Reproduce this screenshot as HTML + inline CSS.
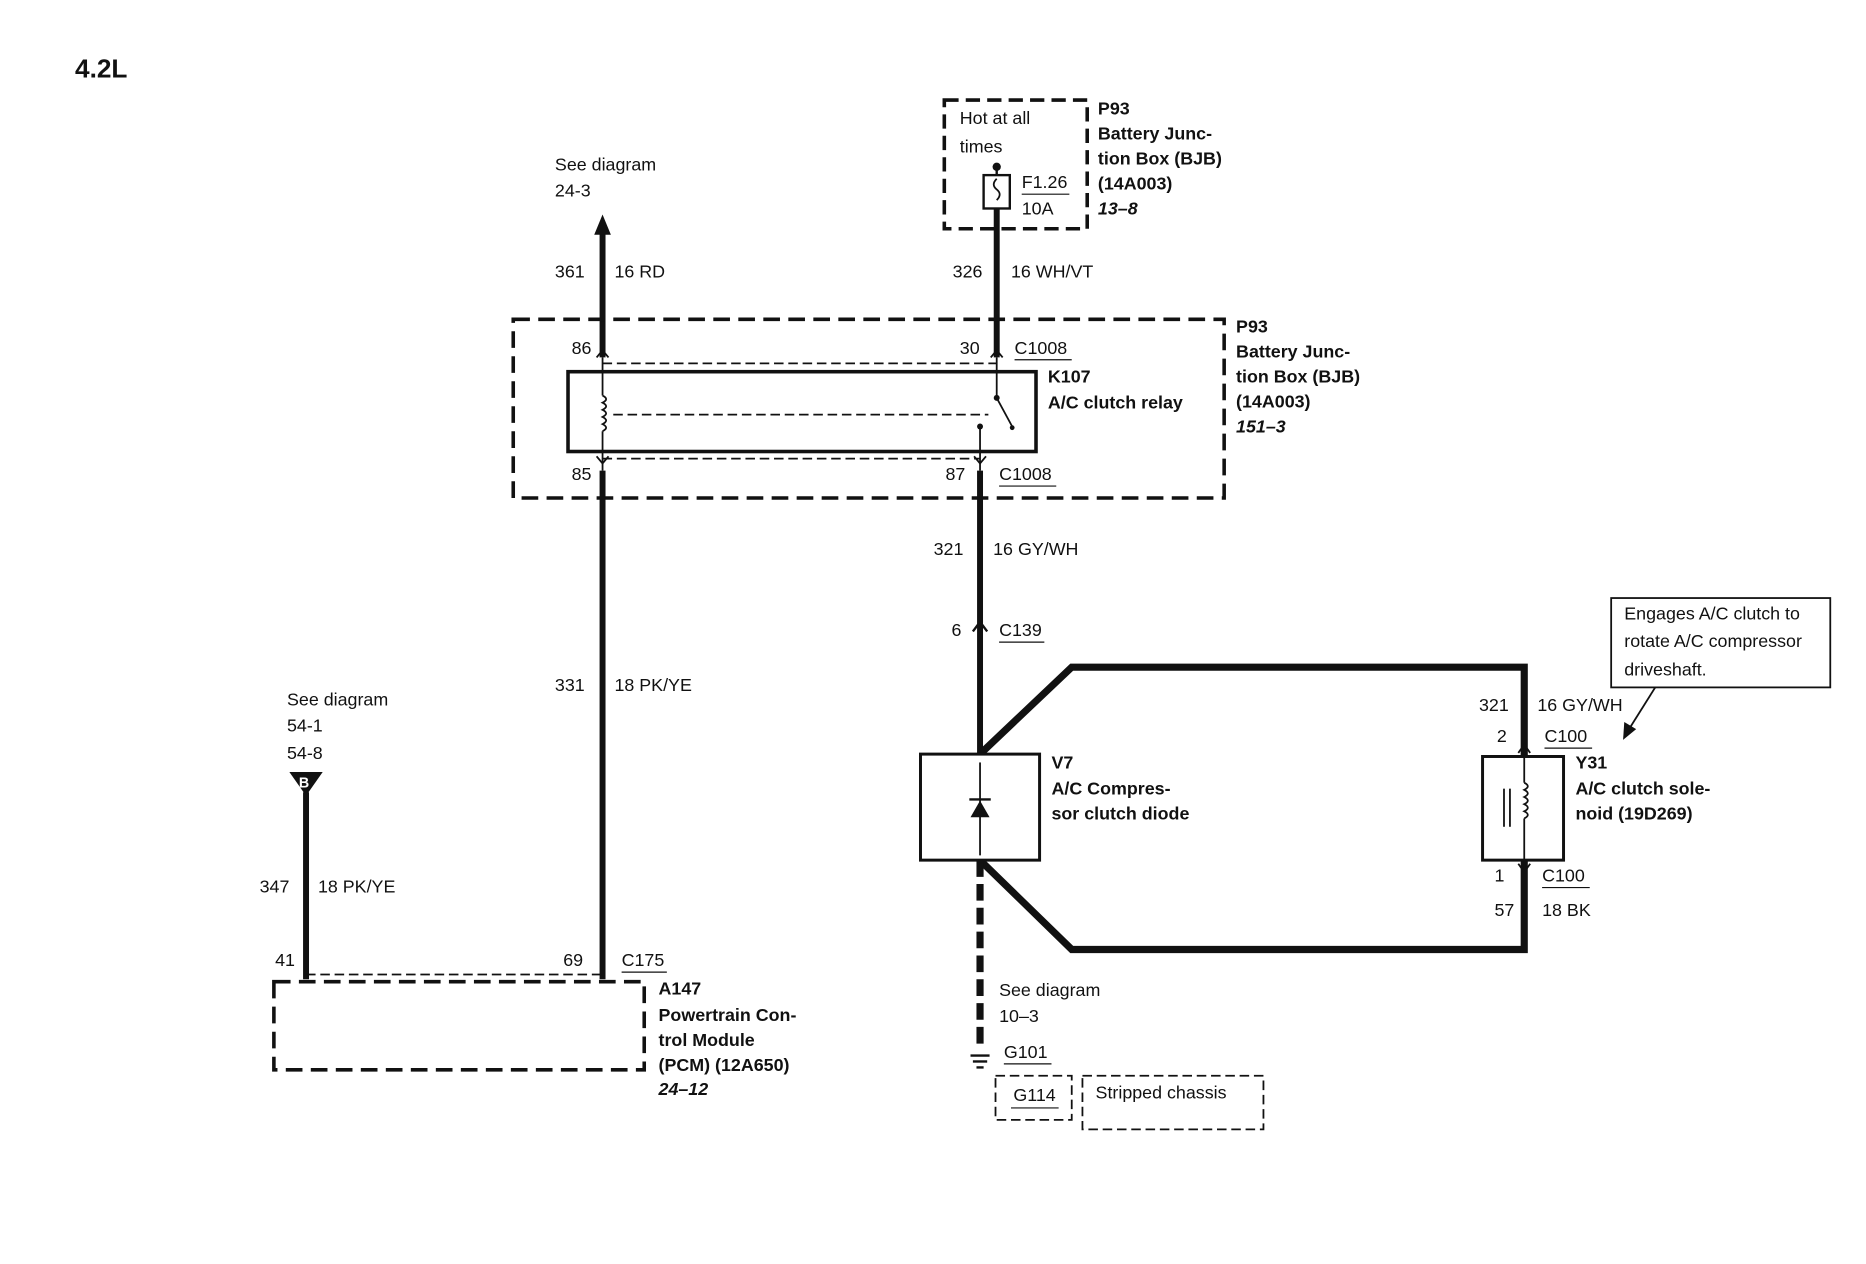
<!DOCTYPE html>
<html><head><meta charset="utf-8"><style>
html,body{margin:0;padding:0;background:#fff;}
svg{display:block;}
text{font-family:"Liberation Sans",Arial,sans-serif;font-size:15px;fill:#111;}
.b{font-weight:bold;}
.i{font-style:italic;font-weight:bold;}
</style></head><body>
<svg width="1866" height="1264" viewBox="0 0 1567 1061" preserveAspectRatio="none" xmlns="http://www.w3.org/2000/svg">
<rect width="1567" height="1061" fill="#fff"/>
<text x="63" y="65" class="b" style="font-size:22px">4.2L</text>

<!-- fuse box -->
<rect x="793" y="84" width="120" height="108" fill="none" stroke="#111" stroke-width="3" stroke-dasharray="12,6"/>
<text x="806" y="104">Hot at all</text>
<text x="806" y="128">times</text>
<circle cx="837" cy="140" r="3.5" fill="#111"/>
<line x1="837" y1="140" x2="837" y2="147" stroke="#111" stroke-width="2"/>
<rect x="826" y="147" width="22" height="28" fill="none" stroke="#111" stroke-width="2"/>
<path d="M837 150 q-5 5 0 9 q5 4 0 9" fill="none" stroke="#111" stroke-width="1.5"/>
<text x="858" y="158">F1.26</text>
<line x1="858" y1="163" x2="898" y2="163" stroke="#111"/>
<text x="858" y="180">10A</text>
<text x="922" y="96" class="b">P93</text>
<text x="922" y="117" class="b">Battery Junc-</text>
<text x="922" y="138" class="b">tion Box (BJB)</text>
<text x="922" y="159" class="b">(14A003)</text>
<text x="922" y="180" class="i">13–8</text>

<!-- wires top -->
<line x1="837" y1="175" x2="837" y2="300" stroke="#111" stroke-width="5"/>
<text x="800" y="233">326</text><text x="849" y="233">16 WH/VT</text>
<line x1="506" y1="195" x2="506" y2="300" stroke="#111" stroke-width="5"/>
<polygon points="506,180 499,197 513,197" fill="#111"/>
<text x="466" y="143">See diagram</text>
<text x="466" y="165">24-3</text>
<text x="466" y="233">361</text><text x="516" y="233">16 RD</text>

<!-- BJB box -->
<rect x="431" y="268" width="597" height="150" fill="none" stroke="#111" stroke-width="3" stroke-dasharray="14,7"/>
<line x1="506" y1="305" x2="837" y2="305" stroke="#111" stroke-width="1.5" stroke-dasharray="8,4"/>
<line x1="506" y1="385" x2="823" y2="385" stroke="#111" stroke-width="1.5" stroke-dasharray="8,4"/>
<rect x="477" y="312" width="393" height="67" fill="none" stroke="#111" stroke-width="3"/>
<line x1="506" y1="300" x2="506" y2="332" stroke="#111" stroke-width="1.5"/>
<path d="M506 332 q6 3 0 6 q6 3 0 6 q6 3 0 6 q6 3 0 6 q6 3 0 6" fill="none" stroke="#111" stroke-width="1.5"/>
<line x1="506" y1="362" x2="506" y2="395" stroke="#111" stroke-width="1.5"/>
<polyline points="501,300 506,294 511,300" fill="none" stroke="#111" stroke-width="1.5"/>
<polyline points="501,383 506,389 511,383" fill="none" stroke="#111" stroke-width="1.5"/>
<line x1="837" y1="300" x2="837" y2="332" stroke="#111" stroke-width="1.5"/>
<circle cx="837" cy="334" r="2.5" fill="#111"/>
<line x1="837" y1="334" x2="850" y2="358" stroke="#111" stroke-width="1.5"/>
<circle cx="850" cy="359" r="2" fill="#111"/>
<polyline points="832,300 837,294 842,300" fill="none" stroke="#111" stroke-width="1.5"/>
<line x1="515" y1="348" x2="830" y2="348" stroke="#111" stroke-width="1.5" stroke-dasharray="8,4"/>
<circle cx="823" cy="358" r="2.5" fill="#111"/>
<line x1="823" y1="358" x2="823" y2="395" stroke="#111" stroke-width="1.5"/>
<polyline points="818,383 823,389 828,383" fill="none" stroke="#111" stroke-width="1.5"/>
<text x="480" y="297">86</text><text x="806" y="297">30</text>
<text x="852" y="297">C1008</text><line x1="852" y1="302" x2="900" y2="302" stroke="#111"/>
<text x="880" y="321" class="b">K107</text>
<text x="880" y="343" class="b">A/C clutch relay</text>
<text x="480" y="403">85</text><text x="794" y="403">87</text>
<text x="839" y="403">C1008</text><line x1="839" y1="408" x2="887" y2="408" stroke="#111"/>
<text x="1038" y="279" class="b">P93</text>
<text x="1038" y="300" class="b">Battery Junc-</text>
<text x="1038" y="321" class="b">tion Box (BJB)</text>
<text x="1038" y="342" class="b">(14A003)</text>
<text x="1038" y="363" class="i">151–3</text>

<!-- PCM wire -->
<line x1="506" y1="395" x2="506" y2="822" stroke="#111" stroke-width="5"/>
<text x="466" y="580">331</text><text x="516" y="580">18 PK/YE</text>
<text x="473" y="811">69</text>
<text x="522" y="811">C175</text><line x1="522" y1="816" x2="560" y2="816" stroke="#111"/>
<line x1="823" y1="395" x2="823" y2="635" stroke="#111" stroke-width="5"/>
<text x="784" y="466">321</text><text x="834" y="466">16 GY/WH</text>
<text x="799" y="534">6</text>
<text x="839" y="534">C139</text><line x1="839" y1="539" x2="877" y2="539" stroke="#111"/>
<polyline points="817,530 823,522 829,530" fill="none" stroke="#111" stroke-width="2"/>

<!-- B wire -->
<polygon points="243,648 271,648 257,668" fill="#111"/>
<text x="251" y="661" style="font-size:12px;fill:#fff" class="b">B</text>
<line x1="257" y1="665" x2="257" y2="822" stroke="#111" stroke-width="5"/>
<text x="241" y="592">See diagram</text>
<text x="241" y="614">54-1</text>
<text x="241" y="637">54-8</text>
<text x="218" y="749">347</text><text x="267" y="749">18 PK/YE</text>
<text x="231" y="811">41</text>
<line x1="257" y1="818" x2="506" y2="818" stroke="#111" stroke-width="1.5" stroke-dasharray="8,4"/>
<rect x="230" y="824" width="311" height="74" fill="none" stroke="#111" stroke-width="3" stroke-dasharray="14,7"/>
<text x="553" y="835" class="b">A147</text>
<text x="553" y="857" class="b">Powertrain Con-</text>
<text x="553" y="878" class="b">trol Module</text>
<text x="553" y="899" class="b">(PCM) (12A650)</text>
<text x="553" y="919" class="i">24–12</text>

<!-- loop -->
<polyline points="823,633 900,560 1280,560 1280,635" fill="none" stroke="#111" stroke-width="6"/>
<polyline points="823,722 900,797 1280,797 1280,722" fill="none" stroke="#111" stroke-width="6"/>
<rect x="773" y="633" width="100" height="89" fill="#fff" stroke="#111" stroke-width="2.5"/>
<line x1="823" y1="640" x2="823" y2="718" stroke="#111" stroke-width="1.5"/>
<polygon points="815,686 831,686 823,672" fill="#111"/>
<line x1="814" y1="671" x2="832" y2="671" stroke="#111" stroke-width="2"/>
<text x="883" y="645" class="b">V7</text>
<text x="883" y="667" class="b">A/C Compres-</text>
<text x="883" y="688" class="b">sor clutch diode</text>

<rect x="1245" y="635" width="68" height="87" fill="#fff" stroke="#111" stroke-width="2.5"/>
<line x1="1280" y1="625" x2="1280" y2="657" stroke="#111" stroke-width="1.5"/>
<path d="M1280 657 q6 3 0 6 q6 3 0 6 q6 3 0 6 q6 3 0 6 q6 3 0 6" fill="none" stroke="#111" stroke-width="1.5"/>
<line x1="1280" y1="687" x2="1280" y2="732" stroke="#111" stroke-width="1.5"/>
<line x1="1263" y1="662" x2="1263" y2="694" stroke="#111" stroke-width="1.5"/>
<line x1="1268" y1="662" x2="1268" y2="694" stroke="#111" stroke-width="1.5"/>
<polyline points="1275,632 1280,625 1285,632" fill="none" stroke="#111" stroke-width="1.5"/>
<polyline points="1275,725 1280,732 1285,725" fill="none" stroke="#111" stroke-width="1.5"/>
<text x="1242" y="597">321</text><text x="1291" y="597">16 GY/WH</text>
<text x="1257" y="623">2</text>
<text x="1297" y="623">C100</text><line x1="1297" y1="628" x2="1337" y2="628" stroke="#111"/>
<text x="1323" y="645" class="b">Y31</text>
<text x="1323" y="667" class="b">A/C clutch sole-</text>
<text x="1323" y="688" class="b">noid (19D269)</text>
<text x="1255" y="740">1</text>
<text x="1295" y="740">C100</text><line x1="1295" y1="745" x2="1335" y2="745" stroke="#111"/>
<text x="1255" y="769">57</text><text x="1295" y="769">18 BK</text>

<rect x="1353" y="502" width="184" height="75" fill="#fff" stroke="#111" stroke-width="1.5"/>
<text x="1364" y="520">Engages A/C clutch to</text>
<text x="1364" y="543">rotate A/C compressor</text>
<text x="1364" y="567">driveshaft.</text>
<line x1="1390" y1="577" x2="1368" y2="612" stroke="#111" stroke-width="1.5"/>
<polygon points="1363,621 1364,606 1374,612" fill="#111"/>

<!-- ground -->
<line x1="823" y1="722" x2="823" y2="882" stroke="#111" stroke-width="6" stroke-dasharray="14,6"/>
<text x="839" y="836">See diagram</text>
<text x="839" y="858">10–3</text>
<line x1="815" y1="886" x2="831" y2="886" stroke="#111" stroke-width="2"/>
<line x1="817" y1="891" x2="829" y2="891" stroke="#111" stroke-width="2"/>
<line x1="820" y1="896" x2="826" y2="896" stroke="#111" stroke-width="2"/>
<text x="843" y="888">G101</text><line x1="843" y1="893" x2="883" y2="893" stroke="#111"/>
<rect x="836" y="903" width="64" height="37" fill="none" stroke="#111" stroke-width="1.5" stroke-dasharray="8,4"/>
<text x="851" y="924">G114</text><line x1="849" y1="930" x2="889" y2="930" stroke="#111"/>
<rect x="909" y="903" width="152" height="45" fill="none" stroke="#111" stroke-width="1.5" stroke-dasharray="8,4"/>
<text x="920" y="922">Stripped chassis</text>
</svg>
</body></html>
